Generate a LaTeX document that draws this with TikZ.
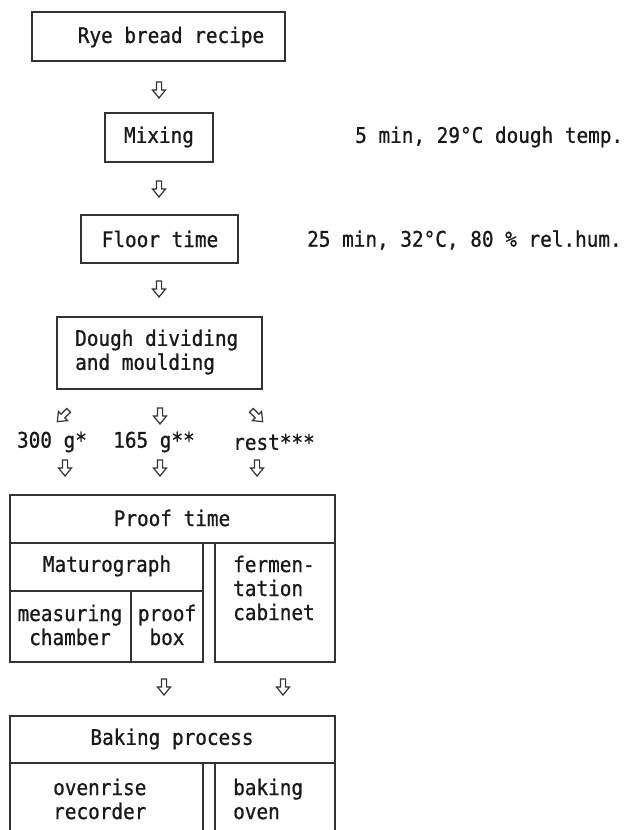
\documentclass[tikz,border=0pt]{standalone}
\usepackage{fontspec}
\setmonofont[FakeStretch=0.9,FakeBold=0.8]{DejaVu Sans Mono}
\begin{document}
\begin{tikzpicture}[x=1pt,y=-1pt,
  every node/.style={font=\ttfamily\fontsize{21.5}{24}\selectfont, inner sep=0pt, text=black!90},
  boxline/.style={draw=black!80, line width=1.5pt},
  harrow/.pic={\draw[black!80, line width=1.2pt, line join=miter]
     (-2.6,-8) -- (2.6,-8) -- (2.6,0) -- (6.5,0) -- (0,8) -- (-6.5,0) -- (-2.6,0) -- cycle;}
]
\useasboundingbox (0,0) rectangle (629,830);

% top chain
\draw[boxline] (32,12) rectangle (285,61);
\node (rye) at (171,37) {Rye bread recipe};
\pic at (159,90) {harrow};
\draw[boxline] (105,113) rectangle (213,162);
\node (mix) at (159,137) {Mixing};
\node[anchor=west] (mixnote) at (355,137) {5 min, 29°C dough temp.};
\pic at (159,189) {harrow};
\draw[boxline] (81,215) rectangle (238,263);
\node (floor) at (160,239) {Floor time};
\node[anchor=west] (floornote) at (307,240) {25 min, 32°C, 80 \% rel.hum.};
\pic at (159,289) {harrow};
\draw[boxline] (57,317) rectangle (262,389);
\node[anchor=west, align=left] (dough) at (75,352) {Dough dividing\\and moulding};

% split
\pic[rotate=-45] at (63,416) {harrow};
\pic at (160,416) {harrow};
\pic[rotate=45] at (257,416) {harrow};
\node (w300) at (52,442) {300 g*};
\node (w165) at (154,442) {165 g**};
\node (rest) at (274,442) {rest***};
\pic at (65,468) {harrow};
\pic at (160,468) {harrow};
\pic at (257,468) {harrow};

% proof time
\draw[boxline] (10,495) rectangle (335,543);
\node (proof) at (172,518) {Proof time};
\draw[boxline] (10,543) rectangle (203,662);
\draw[boxline] (10,591) -- (203,591);
\draw[boxline] (131,591) -- (131,662);
\draw[boxline] (215,543) rectangle (335,662);
\node (maturo) at (107,566) {Maturograph};
\node[align=center] (meas) at (70,625) {measuring\\chamber};
\node[align=center] (pbox) at (167,625) {proof\\box};
\node[anchor=west, align=left] (ferm) at (233,588) {fermen-\\tation\\cabinet};

\pic at (164,687) {harrow};
\pic at (283,687) {harrow};

% baking
\draw[boxline] (10,716) rectangle (335,763);
\node (baking) at (172,739) {Baking process};
\draw[boxline] (10,832) -- (10,763) -- (203,763) -- (203,832);
\draw[boxline] (215,832) -- (215,763) -- (335,763) -- (335,832);
\node[anchor=west, align=left] (oven1) at (53,799) {ovenrise\\recorder};
\node[anchor=west, align=left] (oven2) at (233,799) {baking\\oven};
\end{tikzpicture}
\end{document}
